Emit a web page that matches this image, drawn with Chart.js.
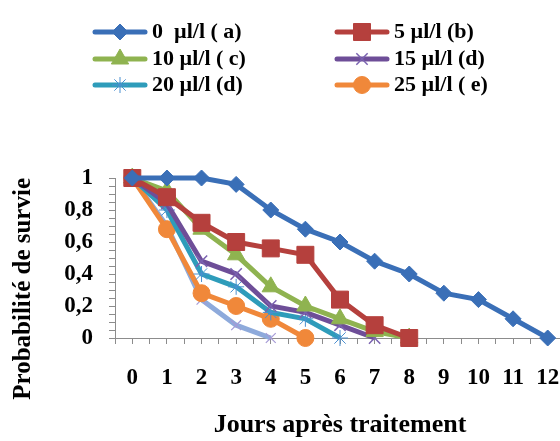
<!DOCTYPE html>
<html><head><meta charset="utf-8">
<script src="https://cdn.jsdelivr.net/npm/chart.js@4/dist/chart.umd.min.js"></script>
<style>html,body{margin:0;padding:0;overflow:hidden;background:#fff}</style>
</head><body>
<canvas id="c" width="578" height="441"></canvas>
<script>
// ---- data ----
const days = [0,1,2,3,4,5,6,7,8,9,10,11,12];
const seriesNames = ['0  µl/l ( a)', '5 µl/l (b)', '10 µl/l ( c)', '15 µl/l (d)', '20 µl/l (d)', '25 µl/l ( e)'];
const s0  = [1, 1, 1, 0.96, 0.8, 0.68, 0.6, 0.48, 0.4, 0.28, 0.24, 0.12, 0];
const s5  = [1, 0.88, 0.72, 0.6, 0.56, 0.52, 0.24, 0.08, 0];
const s10 = [1, 0.92, 0.68, 0.52, 0.32, 0.2, 0.12, 0.04, 0];
const s15 = [1, 0.84, 0.48, 0.4, 0.2, 0.16, 0.08, 0];
const s20 = [1, 0.8, 0.4, 0.32, 0.16, 0.12, 0];
const s25 = [1, 0.68, 0.28, 0.2, 0.12, 0];
const s30 = [1, 0.7, 0.24, 0.08, 0];   // unlabelled light-blue series
const xTickValues = [0,1,2,3,4,5,6,7,8,9,10,11,12];
const yTickValues = [0, 0.2, 0.4, 0.6, 0.8, 1];

// ---- styles ----
const colors = ['#3a6fb7', '#b5403d', '#8fb350', '#6e4e98', '#2e9cba', '#f0883a', '#8eaadb'];
const markerColors = ['#3a6fb7', '#b5403d', '#8fb350', '#7a62b0', '#4a8fd0', '#f0883a', '#a59ad6'];
const styles = ['rectRot', 'rect', 'triangle', 'crossRot', 'star', 'circle', 'crossRot'];
const radii = [8, 12, 10, 8, 8, 8.5, 7];
const pbw = [1, 1, 1, 1.5, 1, 1, 1.2];
const allSeries = [s0, s5, s10, s15, s20, s25, s30];
const labels = seriesNames.concat(['']);

const toXY = arr => arr.map((v, i) => ({x: days[i], y: v}));
const datasets = allSeries.map((arr, i) => ({
  label: labels[i],
  data: toXY(arr),
  borderColor: colors[i],
  backgroundColor: markerColors[i],
  borderWidth: 5,
  pointStyle: styles[i],
  pointRadius: radii[i],
  pointBackgroundColor: markerColors[i],
  pointBorderColor: markerColors[i],
  pointBorderWidth: pbw[i],
  tension: 0,
  clip: false,
  fill: false
}));

const fam = '"Liberation Serif", "Times New Roman", serif';
const near = (v, arr) => arr.some(t => Math.abs(t - v) < 1e-6);

function fallbackPoint(ctx, o, x, y) {
  const r = o.radius; ctx.beginPath();
  if (o.pointStyle === 'circle') ctx.arc(x, y, r, 0, Math.PI * 2);
  else if (o.pointStyle === 'rect') { const h = r * Math.SQRT1_2; ctx.rect(x - h, y - h, 2 * h, 2 * h); }
  else if (o.pointStyle === 'rectRot') { ctx.moveTo(x, y - r); ctx.lineTo(x + r, y); ctx.lineTo(x, y + r); ctx.lineTo(x - r, y); ctx.closePath(); }
  else if (o.pointStyle === 'triangle') { ctx.moveTo(x, y - r); ctx.lineTo(x + r * 0.866, y + r / 2); ctx.lineTo(x - r * 0.866, y + r / 2); ctx.closePath(); }
  else { const h = r * 0.7; ctx.moveTo(x - h, y - h); ctx.lineTo(x + h, y + h); ctx.moveTo(x + h, y - h); ctx.lineTo(x - h, y + h);
    if (o.pointStyle === 'star') { ctx.moveTo(x, y - r); ctx.lineTo(x, y + r); ctx.moveTo(x - r, y); ctx.lineTo(x + r, y); } }
  if (['circle','rect','rectRot','triangle'].includes(o.pointStyle)) ctx.fill();
  ctx.stroke();
}

const legendPlugin = {
  id: 'customLegend',
  afterDraw(chart) {
    const ctx = chart.ctx;
    const colX = [95, 337];
    const rowY = [32, 59, 85];
    const lineLen = 50;
    ctx.save();
    seriesNames.forEach((name, i) => {
      const ds = chart.data.datasets[i];
      const x0 = colX[i % 2], y = rowY[Math.floor(i / 2)];
      ctx.strokeStyle = ds.borderColor; ctx.lineWidth = 5; ctx.lineCap = 'round';
      ctx.beginPath(); ctx.moveTo(x0, y); ctx.lineTo(x0 + lineLen, y); ctx.stroke();
      ctx.lineCap = 'butt';
      ctx.fillStyle = ds.pointBackgroundColor; ctx.strokeStyle = ds.pointBorderColor; ctx.lineWidth = ds.pointBorderWidth;
      const o = {pointStyle: ds.pointStyle, radius: ds.pointRadius, borderWidth: ds.pointBorderWidth, rotation: 0};
      if (Chart.helpers && Chart.helpers.drawPoint) Chart.helpers.drawPoint(ctx, o, x0 + lineLen / 2, y);
      else fallbackPoint(ctx, o, x0 + lineLen / 2, y);
      ctx.fillStyle = '#000'; ctx.font = 'bold 22px ' + fam; ctx.textBaseline = 'middle'; ctx.textAlign = 'left';
      ctx.fillText(name, x0 + lineLen + 7, y);
    });
    ctx.restore();
  }
};

new Chart(document.getElementById('c'), {
  type: 'line',
  data: {datasets},
  options: {
    responsive: false,
    animation: false,
    events: [],
    layout: {padding: {top: 178, right: 5, bottom: 0, left: 0}},
    plugins: {legend: {display: false}, tooltip: {enabled: false}},
    scales: {
      x: {
        type: 'linear', min: -0.5, max: 12.5,
        afterFit: s => { s.height = 103; s.paddingLeft = 0; s.paddingRight = 0; },
        ticks: {stepSize: 0.5, autoSkip: false, maxRotation: 0, maxTicksLimit: 100, padding: 20,
          color: '#000', font: {family: fam, size: 23, weight: 'bold'},
          callback: v => near(v, xTickValues) ? String(Math.round(v)) : ''},
        grid: {drawOnChartArea: false, drawTicks: true, tickLength: 6, color: '#8c8c8c'},
        border: {color: '#8c8c8c', width: 1},
        title: {display: true, text: 'Jours après traitement', color: '#000',
          font: {family: fam, size: 26, weight: 'bold'}, padding: {top: 0, bottom: 0}}
      },
      y: {
        min: 0, max: 1,
        afterFit: s => { s.width = 115; },
        ticks: {stepSize: 0.05, autoSkip: false, maxTicksLimit: 100, padding: 16,
          color: '#000', font: {family: fam, size: 23, weight: 'bold'},
          callback: v => near(v, yTickValues) ? (Math.round(v * 10) / 10).toString().replace('.', ',') : ''},
        grid: {drawOnChartArea: false, drawTicks: true, tickLength: 6, color: '#8c8c8c'},
        border: {color: '#8c8c8c', width: 1},
        title: {display: true, text: 'Probabilité de survie', align: 'end', color: '#000',
          font: {family: fam, size: 25, weight: 'bold'}, padding: {top: 9, bottom: 0}}
      }
    }
  },
  plugins: [legendPlugin]
});
</script>
</body></html>
